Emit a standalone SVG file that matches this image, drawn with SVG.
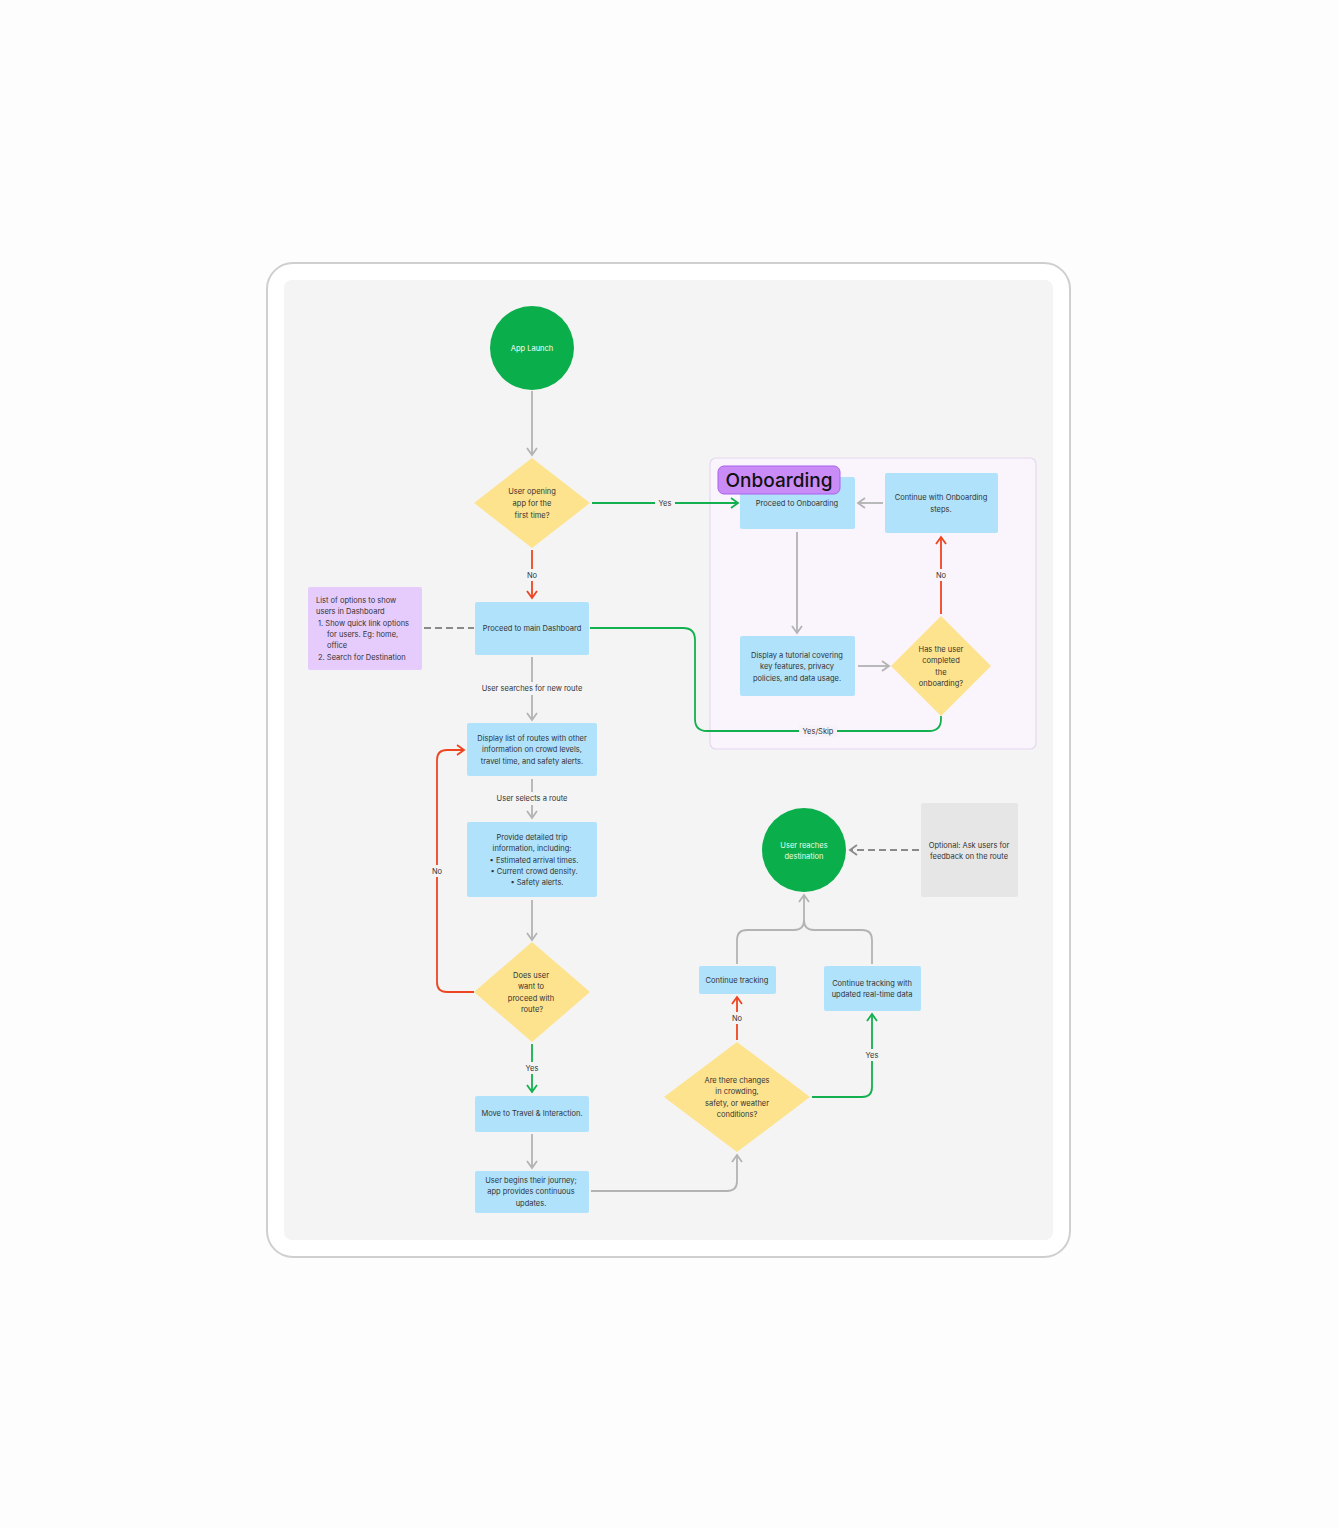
<svg xmlns="http://www.w3.org/2000/svg" width="1338" height="1528" viewBox="0 0 1338 1528">
<defs>
<style>
text{font-family:Inter,"Liberation Sans",sans-serif;font-size:7.5px;fill:#333;text-anchor:middle}
.box{fill:#b0e2fb}
.dia{fill:#fde38d}
.circ{fill:#0aae4a}
.w{fill:#fff}
.g{fill:none;stroke:#b3b3b3;stroke-width:1.8}
.gr{fill:none;stroke:#13b04f;stroke-width:1.8}
.rd{fill:none;stroke:#ee4520;stroke-width:1.8}
.ds{fill:none;stroke:#8a8a8a;stroke-width:1.8;stroke-dasharray:7,4}
.lbl{fill:#f4f4f4}
</style>
<marker id="ag" markerWidth="12" markerHeight="12" refX="9" refY="6" orient="auto" markerUnits="userSpaceOnUse"><path d="M2,1 L9,6 L2,11" fill="none" stroke="#b3b3b3" stroke-width="1.8"/></marker>
<marker id="agd" markerWidth="12" markerHeight="12" refX="9" refY="6" orient="auto" markerUnits="userSpaceOnUse"><path d="M2,1 L9,6 L2,11" fill="none" stroke="#8a8a8a" stroke-width="1.8"/></marker>
<marker id="agr" markerWidth="12" markerHeight="12" refX="9" refY="6" orient="auto" markerUnits="userSpaceOnUse"><path d="M2,1 L9,6 L2,11" fill="none" stroke="#13b04f" stroke-width="1.8"/></marker>
<marker id="ard" markerWidth="12" markerHeight="12" refX="9" refY="6" orient="auto" markerUnits="userSpaceOnUse"><path d="M2,1 L9,6 L2,11" fill="none" stroke="#ee4520" stroke-width="1.8"/></marker>
</defs>
<rect x="0" y="0" width="1338" height="1528" fill="#fdfdfd"/>
<rect x="267" y="263" width="803" height="994" rx="26" fill="#fff" stroke="#cfcfcf" stroke-width="2"/>
<rect x="284" y="280" width="769" height="960" rx="8" fill="#f4f4f4"/>
<g id="onboarding-frame">
<rect x="710" y="458" width="326" height="291" rx="6" fill="#faf5fc" stroke="#e6d6f0" stroke-width="1.2"/>
</g>

<g id="connectors">
<path class="g" d="M532,391 V455" marker-end="url(#ag)"/>
<path class="gr" d="M592,503 H738" marker-end="url(#agr)"/>
<rect class="lbl" x="655" y="497" width="20" height="12"/><text x="665" y="506">Yes</text>
<path class="rd" d="M532,550 V598" marker-end="url(#ard)"/>
<rect class="lbl" x="522" y="569" width="20" height="12"/><text x="532" y="578">No</text>
<path class="ds" d="M424,628 H474"/>
<path class="gr" d="M590,628 H683 Q695,628 695,640 V719 Q695,731 707,731 H929 Q941,731 941,719 V716"/>
<rect x="799" y="725" width="38" height="12" fill="#f6f2f8"/><text x="818" y="734">Yes/Skip</text>
<path class="g" d="M532,657 V720" marker-end="url(#ag)"/>
<rect class="lbl" x="478" y="682" width="108" height="13"/><text x="532" y="691">User searches for new route</text>
<path class="g" d="M532,779 V818" marker-end="url(#ag)"/>
<rect class="lbl" x="494" y="792" width="76" height="13"/><text x="532" y="801">User selects a route</text>
<path class="g" d="M532,900 V940" marker-end="url(#ag)"/>
<path class="rd" d="M474,992 H447 Q437,992 437,982 V760 Q437,750 447,750 H464" marker-end="url(#ard)"/>
<rect class="lbl" x="428" y="865" width="18" height="12"/><text x="437" y="874">No</text>
<path class="gr" d="M532,1044 V1092" marker-end="url(#agr)"/>
<rect class="lbl" x="522" y="1062" width="20" height="12"/><text x="532" y="1071">Yes</text>
<path class="g" d="M532,1134 V1168" marker-end="url(#ag)"/>
<path class="g" d="M591,1191 H727 Q737,1191 737,1181 V1155" marker-end="url(#ag)"/>
<path class="rd" d="M737,1040 V997" marker-end="url(#ard)"/>
<rect class="lbl" x="727" y="1012" width="20" height="12"/><text x="737" y="1021">No</text>
<path class="gr" d="M812,1097 H862 Q872,1097 872,1087 V1014" marker-end="url(#agr)"/>
<rect class="lbl" x="862" y="1049" width="20" height="12"/><text x="872" y="1058">Yes</text>
<path class="g" d="M737,964 V940 Q737,930 747,930 H794 Q804,930 804,920 Q804,930 814,930 H862 Q872,930 872,940 V964"/>
<path class="g" d="M804,920 V895" marker-end="url(#ag)"/>
<path class="ds" d="M919,850 H850" marker-end="url(#agd)"/>
<path class="g" d="M797,532 V633" marker-end="url(#ag)"/>
<path class="g" d="M858,666 H889" marker-end="url(#ag)"/>
<path class="rd" d="M941,614 V537" marker-end="url(#ard)"/>
<rect x="931" y="569" width="20" height="12" fill="#faf5fc"/><text x="941" y="578">No</text>
<path class="g" d="M883,503 H858" marker-end="url(#ag)"/>
</g>

<g id="app-launch"><circle class="circ" cx="532" cy="348" r="42"/><text class="w" x="532" y="351" style="fill:#fff">App Launch</text></g>
<g id="d-first-time"><polygon class="dia" points="532,458 590,503 532,548 474,503"/>
<text x="532" y="494">User opening</text><text x="532" y="506">app for the</text><text x="532" y="518">first time?</text></g>
<g id="main-dashboard"><rect class="box" x="475" y="602" width="114" height="53" rx="2"/><text x="532" y="631">Proceed to main Dashboard</text></g>
<g id="dashboard-note"><rect x="308" y="587" width="114" height="83" rx="2" fill="#e6ccfd"/>
<text x="316" y="603" style="text-anchor:start">List of options to show</text>
<text x="316" y="614" style="text-anchor:start">users in Dashboard</text>
<text x="318" y="626" style="text-anchor:start">1.  Show quick link options</text>
<text x="327" y="637" style="text-anchor:start">for users. Eg: home,</text>
<text x="327" y="648" style="text-anchor:start">office</text>
<text x="318" y="660" style="text-anchor:start">2.  Search for Destination</text></g>
<g id="route-list"><rect class="box" x="467" y="723" width="130" height="53" rx="2"/>
<text x="532" y="741">Display list of routes with other</text><text x="532" y="752">information on crowd levels,</text><text x="532" y="764">travel time, and safety alerts.</text></g>
<g id="trip-info"><rect class="box" x="467" y="822" width="130" height="75" rx="2"/>
<text x="532" y="840">Provide detailed trip</text><text x="532" y="851">information, including:</text>
<text x="534" y="863">•  Estimated arrival times.</text><text x="534" y="874">•  Current crowd density.</text><text x="537" y="885">•  Safety alerts.</text></g>
<g id="d-proceed"><polygon class="dia" points="532,942 590,992 532,1042 474,992"/>
<text x="531" y="978">Does user</text><text x="531" y="989">want to</text><text x="531" y="1001">proceed with</text><text x="532" y="1012">route?</text></g>
<g id="move-travel"><rect class="box" x="475" y="1096" width="114" height="36" rx="2"/><text x="532" y="1116">Move to Travel &amp; Interaction.</text></g>
<g id="journey"><rect class="box" x="475" y="1171" width="114" height="42" rx="2"/>
<text x="531" y="1183">User begins their journey;</text><text x="531" y="1194">app provides continuous</text><text x="531" y="1206">updates.</text></g>
<g id="proceed-onboarding"><rect class="box" x="740" y="477" width="115" height="52" rx="2"/><text x="797" y="506">Proceed to Onboarding</text></g>
<g id="onboarding-label"><rect x="718" y="466" width="122" height="28" rx="6" fill="#c98cf6" stroke="#a860ee" stroke-width="1"/>
<text x="779" y="487" style="font-size:19px;font-weight:500;fill:#111">Onboarding</text></g>
<g id="continue-onboarding"><rect class="box" x="885" y="473" width="113" height="60" rx="2"/>
<text x="941" y="500">Continue with Onboarding</text><text x="941" y="512">steps.</text></g>
<g id="tutorial"><rect class="box" x="740" y="636" width="115" height="60" rx="2"/>
<text x="797" y="658">Display a tutorial covering</text><text x="797" y="669">key features, privacy</text><text x="797" y="681">policies, and data usage.</text></g>
<g id="d-completed"><polygon class="dia" points="941,616 991,666 941,716 891,666"/>
<text x="941" y="652">Has the user</text><text x="941" y="663">completed</text><text x="941" y="675">the</text><text x="941" y="686">onboarding?</text></g>
<g id="destination"><circle class="circ" cx="804" cy="850" r="42"/>
<text x="804" y="848" style="fill:#e8ffe8">User reaches</text><text x="804" y="859" style="fill:#e8ffe8">destination</text></g>
<g id="feedback-note"><rect x="921" y="803" width="97" height="94" rx="2" fill="#e6e6e6"/>
<text x="969" y="848">Optional: Ask users for</text><text x="969" y="859">feedback on the route</text></g>
<g id="continue-tracking"><rect class="box" x="699" y="966" width="77" height="28" rx="2"/><text x="737" y="983">Continue tracking</text></g>
<g id="continue-updated"><rect class="box" x="824" y="966" width="97" height="45" rx="2"/>
<text x="872" y="986">Continue tracking with</text><text x="872" y="997">updated real-time data</text></g>
<g id="d-changes"><polygon class="dia" points="737,1042 810,1097 737,1152 664,1097"/>
<text x="737" y="1083">Are there changes</text><text x="737" y="1094">in crowding,</text><text x="737" y="1106">safety, or weather</text><text x="737" y="1117">conditions?</text></g>
</svg>
